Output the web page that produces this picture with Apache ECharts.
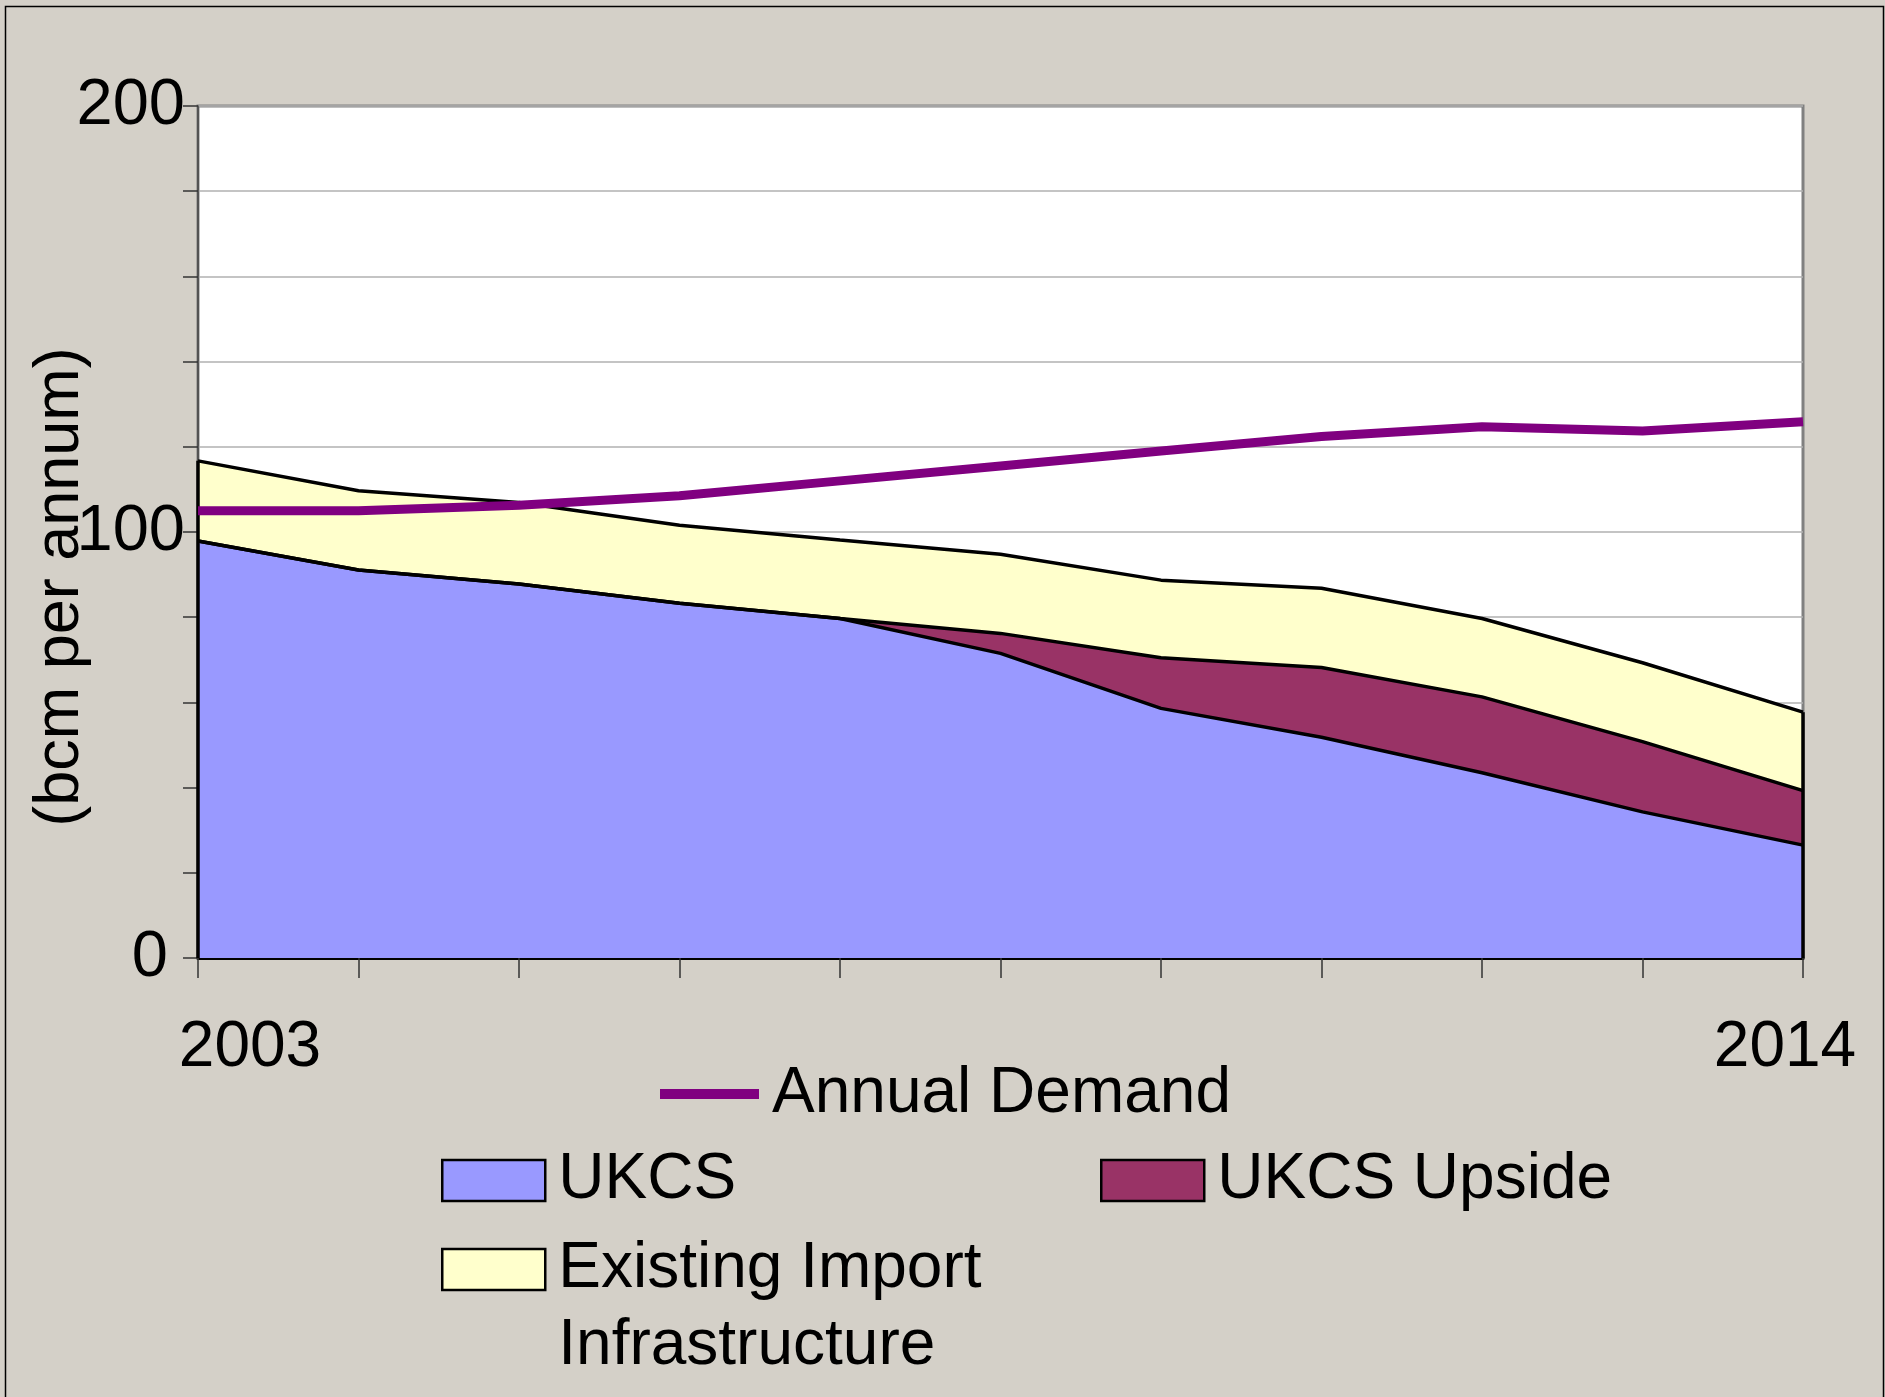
<!DOCTYPE html>
<html>
<head>
<meta charset="utf-8">
<script src="https://cdn.jsdelivr.net/npm/echarts@6/dist/echarts.min.js"></script>
<style>
  html, body { margin: 0; padding: 0; background: #d4d0c8; }
  #chart { width: 1885px; height: 1397px; }
</style>
</head>
<body>
<div id="chart"></div>
<script>
// x ticks: 11 points, only the ends are labelled
let xLabels = ['2003', '', '', '', '', '', '', '', '', '', '2014'];

// bcm per annum
let ukcs = [97.9, 91.1, 87.8, 83.3, 79.7, 71.5, 58.6, 51.8, 43.5, 34.3, 26.5];
let ukcsUpside = [0, 0, 0, 0, 0, 4.7, 11.9, 16.4, 17.8, 16.5, 12.8];
let imports = [18.8, 18.6, 19.1, 18.3, 18.4, 18.6, 18.2, 18.6, 18.4, 18.5, 18.4];
let demand = [105.0, 105.0, 106.3, 108.5, 112.0, 115.5, 119.0, 122.4, 124.7, 123.7, 125.9];

let yLabels = [0, 100, 200];

let myChart = echarts.init(document.getElementById('chart'));
let font = 'Liberation Sans, Arial, sans-serif';
let last = xLabels.length - 1;
let totalLast = ukcs[last] + ukcsUpside[last] + imports[last];
let totalFirst = ukcs[0] + ukcsUpside[0] + imports[0];

function areaSeries(name, data, fill) {
    return {
        name: name,
        type: 'line',
        stack: 'supply',
        data: data,
        symbol: 'none',
        color: fill,
        itemStyle: { color: fill },
        lineStyle: { color: '#000', width: 3.5 },
        areaStyle: { color: fill, opacity: 1 },
        silent: true
    };
}

function boxLegend(name, left, top, fill) {
    return {
        data: [{ name: name, icon: 'rect' }],
        left: left,
        top: top,
        padding: 0,
        itemWidth: 103,
        itemHeight: 41,
        itemStyle: { color: fill, borderColor: '#000', borderWidth: 2.5 },
        formatter: function (n) {
            // blank first line keeps "Existing Import" level with the box
            return n === 'Existing Import Infrastructure' ? ' \nExisting Import\nInfrastructure' : n;
        },
        textStyle: { fontFamily: font, fontSize: 64, color: '#000', lineHeight: 77, padding: [0, 0, 0, 8] }
    };
}

let importSeries = areaSeries('Existing Import Infrastructure', imports, '#ffffcc');
importSeries.markLine = {
    silent: true,
    symbol: 'none',
    label: { show: false },
    lineStyle: { color: '#000', width: 3.5, type: 'solid' },
    data: [
        [{ coord: [0, 0] }, { coord: [0, totalFirst] }],
        [{ coord: [last, 0] }, { coord: [last, totalLast] }]
    ]
};

let option = {
    backgroundColor: '#d4d0c8',
    animation: false,
    graphic: [{
        type: 'rect',
        shape: { x: 5.5, y: 6.5, width: 1878, height: 1400 },
        style: { fill: 'none', stroke: '#000', lineWidth: 1.5 },
        silent: true
    }],
    grid: {
        left: 198, top: 106, right: 82, bottom: 439,
        outerBoundsMode: 'none',
        show: true,
        backgroundColor: '#ffffff',
        borderColor: '#808080',
        borderWidth: 3
    },
    legend: [
        {
            data: [{ name: 'Annual Demand', icon: 'rect' }],
            left: 660,
            top: 1058,
            padding: 0,
            itemWidth: 99,
            itemHeight: 10,
            itemStyle: { color: '#800080', borderWidth: 0 },
            textStyle: { fontFamily: font, fontSize: 64, color: '#000', lineHeight: 72, padding: [0, 0, 0, 8] }
        },
        boxLegend('UKCS', 441, 1142, '#9999ff'),
        boxLegend('UKCS Upside', 1100, 1142, '#993366'),
        boxLegend('Existing Import Infrastructure', 441, 1154, '#ffffcc')
    ],
    xAxis: {
        type: 'category',
        data: xLabels,
        boundaryGap: false,
        axisLine: { lineStyle: { color: '#000', width: 3 } },
        axisTick: { show: true, interval: 0, length: 20, lineStyle: { color: '#333', width: 1.5 } },
        axisLabel: {
            interval: 0,
            margin: 54,
            formatter: function (v, i) {
                if (!v) return '';
                return i === 0 ? '{a|' + v + '}' : '{b|' + v + '}';
            },
            rich: {
                a: { fontFamily: font, fontSize: 64, color: '#000', lineHeight: 72, padding: [0, 0, 0, 104] },
                b: { fontFamily: font, fontSize: 64, color: '#000', lineHeight: 72, padding: [0, 36, 0, 0] }
            }
        },
        splitLine: { show: false }
    },
    yAxis: {
        type: 'value',
        min: 0,
        max: 200,
        interval: 20,
        name: '(bcm per annum)',
        nameLocation: 'middle',
        nameGap: 102,
        nameMoveOverlap: false,
        nameTextStyle: { fontFamily: font, fontSize: 63, color: '#000', lineHeight: 70, padding: [0, 110, 0, 0] },
        axisLine: { show: true, lineStyle: { color: '#444', width: 1.5 } },
        axisTick: { show: true, length: 15, lineStyle: { color: '#333', width: 1.5 } },
        axisLabel: {
            margin: 13,
            fontFamily: font,
            fontSize: 65,
            color: '#000',
            formatter: function (v) {
                if (yLabels.indexOf(v) < 0) return '';
                return v === 0 ? '{z|0}' : String(v);
            },
            rich: {
                z: { fontFamily: font, fontSize: 65, color: '#000', padding: [0, 17, 0, 0] }
            }
        },
        splitLine: { show: true, lineStyle: { color: '#b0b0b0', width: 1.5 } }
    },
    series: [
        areaSeries('UKCS', ukcs, '#9999ff'),
        areaSeries('UKCS Upside', ukcsUpside, '#993366'),
        importSeries,
        {
            name: 'Annual Demand',
            type: 'line',
            data: demand,
            symbol: 'none',
            color: '#800080',
            lineStyle: { color: '#800080', width: 9 },
            z: 5,
            silent: true
        }
    ]
};

myChart.setOption(option);
</script>
</body>
</html>
